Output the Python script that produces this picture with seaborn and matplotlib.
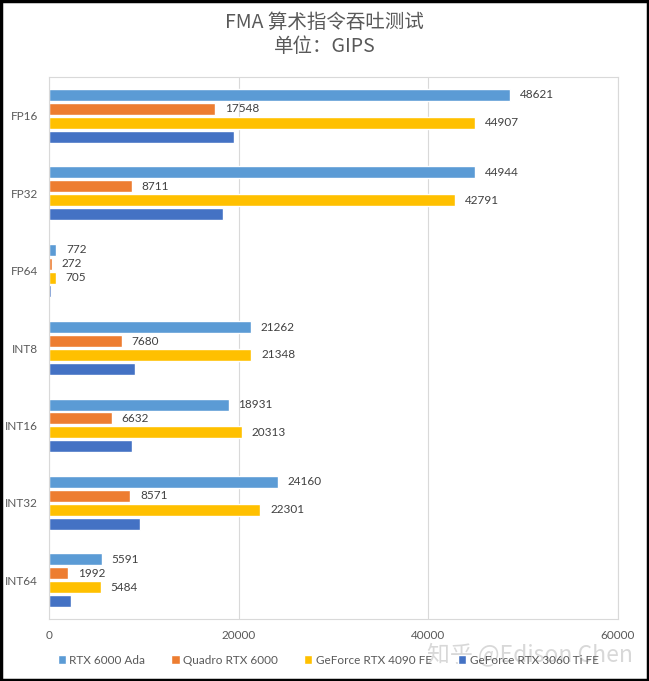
import matplotlib
matplotlib.use("Agg")
import matplotlib.pyplot as plt
import seaborn as sns
import pandas as pd
from matplotlib.patches import Rectangle

categories = ["FP16", "FP32", "FP64", "INT8", "INT16", "INT32", "INT64"]
series_names = ["RTX 6000 Ada", "Quadro RTX 6000", "GeForce RTX 4090 FE", "GeForce RTX 3060 Ti FE"]
rtx6000ada = [48621, 44944, 772, 21262, 18931, 24160, 5591]
quadro6000 = [17548, 8711, 272, 7680, 6632, 8571, 1992]
rtx4090 = [44907, 42791, 705, 21348, 20313, 22301, 5484]
rtx3060ti = [19550, 18370, 260, 9080, 8760, 9600, 2360]
x_ticks = [0, 20000, 40000, 60000]
colors = ["#5B9BD5", "#ED7D31", "#FFC000", "#4472C4"]

rows = []
for name, vals in zip(series_names, [rtx6000ada, quadro6000, rtx4090, rtx3060ti]):
    for c, v in zip(categories, vals):
        rows.append({"cat": c, "val": v, "series": name})
df = pd.DataFrame(rows)

sns.set_theme(style="white")
plt.rcParams["font.family"] = ["Lato", "Noto Sans CJK SC", "DejaVu Sans"]

fig = plt.figure(figsize=(6.49, 6.81), dpi=100)
ax = fig.add_axes([49 / 649, 1 - 619 / 681, 569 / 649, 542 / 681])

sns.barplot(data=df, y="cat", x="val", hue="series", orient="h",
            palette=colors, hue_order=series_names, order=categories,
            width=0.72, gap=0.14, saturation=1, ax=ax, legend=True)

ax.set_xlim(0, 60000)
ax.set_xticks(x_ticks)
ax.set_xticklabels([str(t) for t in x_ticks])
ax.set_xlabel("")
ax.set_ylabel("")
ax.tick_params(axis="x", length=0, labelsize=8.5, labelcolor="#595959", pad=8)
ax.tick_params(axis="y", length=0, labelsize=8.5, labelcolor="#595959", pad=8)
ax.grid(axis="x", color="#D9D9D9", linewidth=0.8)
ax.set_axisbelow(True)
for s in ax.spines.values():
    s.set_color("#D9D9D9")
    s.set_linewidth(0.8)

for cont in ax.containers[:3]:
    ax.bar_label(cont, labels=[f"{int(v.get_width())}" for v in cont],
                 padding=7, fontsize=8.5, color="#404040")

handles, labels = ax.get_legend_handles_labels()
ax.get_legend().remove()
fig.legend(handles, labels, loc="center", bbox_to_anchor=(328 / 649, 1 - 660 / 681),
           ncol=4, frameon=False, fontsize=8.5, handlelength=0.7, handleheight=0.7,
           handletextpad=0.3, columnspacing=2.2, labelcolor="#595959")

fig.text(0.5, 1 - 22 / 681, "FMA 算术指令吞吐测试", ha="center", va="center",
         fontsize=14, color="#595959", family=["Noto Sans CJK SC", "DejaVu Sans"], fontweight="light")
fig.text(0.5, 1 - 47 / 681, "单位：GIPS", ha="center", va="center",
         fontsize=14, color="#595959", family=["Noto Sans CJK SC", "DejaVu Sans"], fontweight="light")

fig.text(633 / 649, 1 - 654 / 681, "知乎 @Edison Chen", ha="right", va="center",
         fontsize=16.5, color="#BEBEBE", alpha=0.6, family=["Noto Sans CJK SC", "DejaVu Sans"],
         fontweight="light")

fig.patches.append(Rectangle((0.002, 0.002), 0.996, 0.996, transform=fig.transFigure,
                             fill=False, edgecolor="black", linewidth=2.5))

fig.savefig("out.png", dpi=100, facecolor="white")
